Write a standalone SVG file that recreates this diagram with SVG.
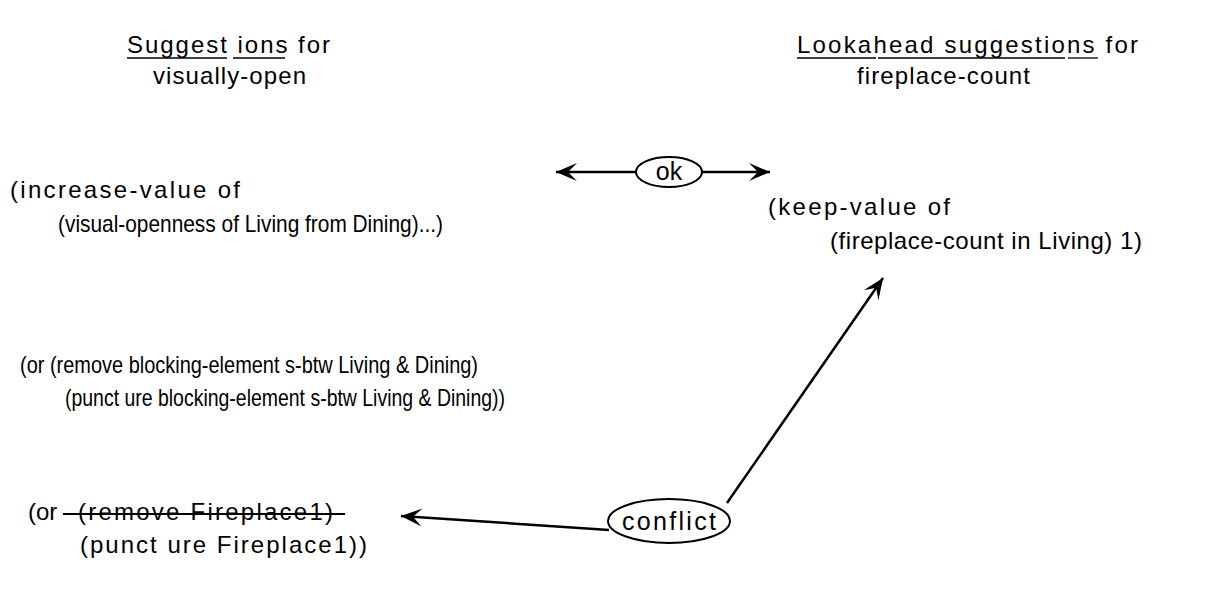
<svg xmlns="http://www.w3.org/2000/svg" width="1225" height="590" viewBox="0 0 1225 590">
<style>
text{font-family:"Liberation Sans",Arial,sans-serif;font-size:24px;fill:#000}
.ul{stroke:#000;stroke-width:1.3}
.edge{stroke:#000;stroke-width:2.5;fill:none}
.oval{fill:#fff;stroke:#000;stroke-width:2}
.lbl{font-size:25px}
</style>
<defs>
<marker id="ah" viewBox="-22 -11 24 22" refX="0" refY="0" markerWidth="24" markerHeight="22" markerUnits="userSpaceOnUse" orient="auto">
<path d="M0,0 L-21,-9 L-12,0 L-21,9 Z" fill="#000"/>
</marker>
</defs>
<rect width="1225" height="590" fill="#fff"/>
<g id="title-left">
<text x="127" y="53" textLength="203" lengthAdjust="spacing">Suggest ions for</text>
<line class="ul" x1="127" y1="58" x2="227" y2="58"/>
<line class="ul" x1="233" y1="58" x2="285" y2="58"/>
<text x="153" y="84" textLength="153" lengthAdjust="spacing">visually-open</text>
</g>
<g id="title-right">
<text x="797" y="53" textLength="341" lengthAdjust="spacing">Lookahead suggestions for</text>
<line class="ul" x1="797" y1="58" x2="876" y2="58"/>
<line class="ul" x1="878" y1="58" x2="1065" y2="58"/>
<line class="ul" x1="1068" y1="58" x2="1098" y2="58"/>
<text x="857" y="84" textLength="173" lengthAdjust="spacing">fireplace-count</text>
</g>
<g id="increase">
<text x="10" y="198" textLength="230" lengthAdjust="spacing">(increase-value of</text>
<text x="58" y="232" textLength="385" lengthAdjust="spacingAndGlyphs">(visual-openness of Living from Dining)...)</text>
</g>
<g id="keep">
<text x="768" y="215" textLength="182" lengthAdjust="spacing">(keep-value of</text>
<text x="830" y="249" textLength="312" lengthAdjust="spacing">(fireplace-count in Living) 1)</text>
</g>
<g id="blocking">
<text x="20" y="373" textLength="458" lengthAdjust="spacingAndGlyphs">(or (remove blocking-element s-btw Living &amp; Dining)</text>
<text x="65" y="406" textLength="440" lengthAdjust="spacingAndGlyphs">(punct ure blocking-element s-btw Living &amp; Dining))</text>
</g>
<g id="fireplace">
<text x="28" y="520">(or</text>
<text x="78" y="520" textLength="255" lengthAdjust="spacing">(remove Fireplace1)</text>
<line x1="63" y1="514" x2="345" y2="514" stroke="#000" stroke-width="2"/>
<text x="80" y="553" textLength="287" lengthAdjust="spacing">(punct ure Fireplace1))</text>
</g>
<g id="connectors">
<line class="edge" x1="636" y1="172" x2="556" y2="172" marker-end="url(#ah)"/>
<line class="edge" x1="702" y1="172" x2="770" y2="172" marker-end="url(#ah)"/>
<line class="edge" x1="727" y1="503" x2="883" y2="278" marker-end="url(#ah)"/>
<line class="edge" x1="609" y1="530" x2="401" y2="516" marker-end="url(#ah)"/>
</g>
<g id="ok">
<ellipse class="oval" cx="669" cy="172" rx="33" ry="15"/>
<text class="lbl" x="669" y="180" text-anchor="middle">ok</text>
</g>
<g id="conflict">
<ellipse class="oval" cx="669" cy="521" rx="61" ry="22"/>
<text class="lbl" x="669" y="530" text-anchor="middle" textLength="94" lengthAdjust="spacing">conflict</text>
</g>
</svg>
